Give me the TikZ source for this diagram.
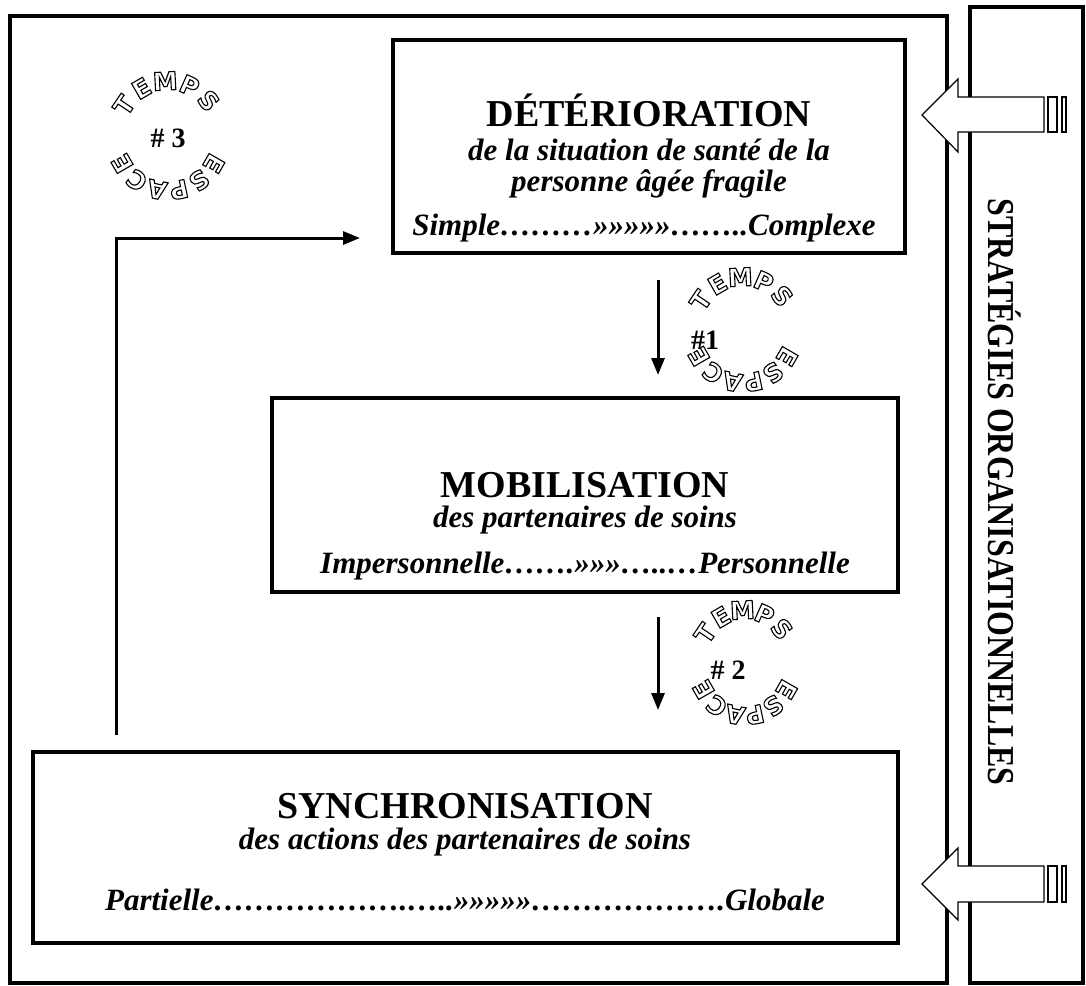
\documentclass[tikz,border=0pt]{standalone}
\usepackage{fontspec}
\setmainfont{Liberation Serif}
\newfontfamily\artfont{DejaVu Sans}
\usetikzlibrary{arrows.meta,calc,fit}

% lettres creuses (contour seulement)
\newcommand\creux[1]{\special{pdf:literal direct 1 Tr 0.55 w}#1\special{pdf:literal direct 0 Tr}}

% TEMPS / ESPACE en cercle autour d'un numero
\newcommand\tempsespace[3]{%
  \foreach \l/\a [count=\i] in {T/146,E/120,M/93,P/66,S/40}
    \node[lettre, rotate=\a-90] (#1t\i) at ($(#1)+({#2*cos(\a)},{-#3*sin(\a)})$) {\creux{\l}};
  \foreach \l/\a [count=\i] in {E/-30,S/-54,P/-78,A/-102,C/-126,E/-150}
    \node[lettre, rotate=\a-90] (#1e\i) at ($(#1)+({#2*cos(\a)},{-#3*sin(\a)})$) {\creux{\l}};
}

\begin{document}
\begin{tikzpicture}[%
		x=0.5pt, y=-0.5pt,
		>={Triangle[length=8.5pt, width=6.5pt]},
		cadre/.style={draw, line width=1.6pt},
		boite/.style={draw, line width=2pt, inner sep=0pt},
		titre/.style={font=\bfseries\fontsize{19}{22}\selectfont},
		soustitre/.style={font=\bfseries\itshape\fontsize{15.5}{18}\selectfont},
		fleche/.style={->, line width=1.5pt},
		lettre/.style={font=\artfont\bfseries\fontsize{12.5}{13}\selectfont, inner sep=0pt},
		numero/.style={font=\bfseries\fontsize{14}{16}\selectfont, inner sep=0pt},
		grossefleche/.style={draw, fill=white, line width=0.6pt, line join=miter}
		]

		\useasboundingbox (0,0) rectangle (1086,985);

		%% cadres
		\draw[cadre] (10,16) rectangle (947,983);
		\draw[cadre] (970,7) rectangle (1083,983);

		\node[rotate=-90, font=\bfseries\fontsize{19}{22}\selectfont] (strat) at (1005,492) {\scalebox{0.84}[1]{STRATÉGIES ORGANISATIONNELLES}};

		%% deterioration
		\node[boite, fit={(393,40) (905,253)}] (det) {};
		\node[titre] (dettitre) at (649,110) {DÉTÉRIORATION};
		\node[soustitre] (detsous1) at (649,150) {de la situation de santé de la};
		\node[soustitre] (detsous2) at (649,184) {personne âgée fragile};
		\node[soustitre] (detech) at (644,228) {Simple………»»»»»……..Complexe};

		%% mobilisation
		\node[boite, fit={(272,398) (898,592)}] (mob) {};
		\node[titre] (mobtitre) at (585,485) {MOBILISATION};
		\node[soustitre] (mobsous) at (585,520) {des partenaires de soins};
		\node[soustitre] (mobech) at (585,566) {Impersonnelle…….»»»…..…Personnelle};

		%% synchronisation
		\node[boite, fit={(33,752) (898,943)}] (sync) {};
		\node[titre] (synctitre) at (465,806) {SYNCHRONISATION};
		\node[soustitre] (syncsous) at (465,842) {des actions des partenaires de soins};
		\node[soustitre] (syncech) at (465,900) {Partielle……………….…..»»»»»……………….Globale};

		%% fleches
		\coordinate (f1a) at (658,280);
		\coordinate (f1b) at (658,375);
		\draw[fleche] (f1a) -- (f1b);
		\coordinate (f2a) at (658,617);
		\coordinate (f2b) at (658,710);
		\draw[fleche] (f2a) -- (f2b);
		\coordinate (r1) at (116,735);
		\coordinate (r2) at (360,238);
		\draw[fleche] (r1) |- (r2);

		%% temps / espace
		\coordinate (c3) at (168,136);
		\tempsespace{c3}{53}{55}
		\node[numero] (n3) at (168,138) {\# 3};
		\coordinate (c1) at (743,330);
		\tempsespace{c1}{51}{53}
		\node[numero] (n1) at (705,340) {\#1};
		\coordinate (c2) at (745,663);
		\tempsespace{c2}{48}{53}
		\node[numero] (n2) at (728,670) {\# 2};

		%% grosses fleches
		\draw[grossefleche] (922,115) -- (958,79) -- (958,97) -- (1044,97) -- (1044,132) -- (958,132) -- (958,152) -- cycle;
		\draw[grossefleche] (1048,97) rectangle (1057,132);
		\draw[grossefleche] (1062,97) rectangle (1066,132);
		\draw[grossefleche] (922,884) -- (958,848) -- (958,866) -- (1044,866) -- (1044,902) -- (958,902) -- (958,920) -- cycle;
		\draw[grossefleche] (1048,866) rectangle (1057,902);
		\draw[grossefleche] (1062,866) rectangle (1066,902);
	\end{tikzpicture}
\end{document}
